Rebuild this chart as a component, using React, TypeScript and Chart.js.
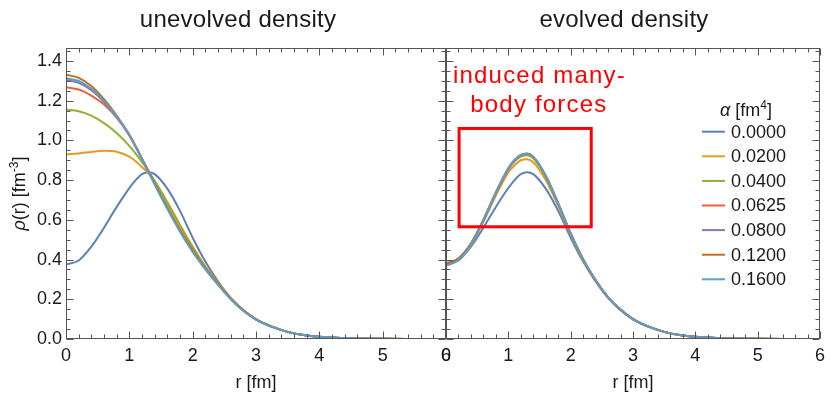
import React, { useEffect, useRef } from "react";
import { Chart, registerables } from "chart.js";

Chart.register(...registerables);

const FONT = '"Liberation Sans", Arial, Helvetica, sans-serif';
const TEXT_COLOR = "#1a1a1a";
const FRAME_COLOR = "#555555";

const panelTitles = ["unevolved density", "evolved density"];
const xTitle = "r [fm]";
const alphaLabels = ["0.0000", "0.0200", "0.0400", "0.0625", "0.0800", "0.1200", "0.1600"];
const seriesColors = ["#5E81B5", "#E19C24", "#8FB032", "#EB6235", "#8778B3", "#C56E1A", "#5D9EC7"];

// radial grid (fm)
const rGrid = [0, 0.2, 0.4, 0.6, 0.8, 1.0, 1.1, 1.2, 1.3, 1.4, 1.6, 1.8, 2.0, 2.2, 2.4, 2.6, 2.8, 3.0, 3.25, 3.5, 3.75, 4.0, 4.5, 5.0, 5.5, 6.0];

// unevolved density rho(r) [fm^-3]
const unevolvedA0000 = [0.375, 0.395, 0.465, 0.56, 0.665, 0.76, 0.8, 0.83, 0.84, 0.83, 0.757, 0.645, 0.51, 0.39, 0.29, 0.207, 0.145, 0.099, 0.062, 0.036, 0.02, 0.011, 0.0035, 0.001, 0.0003, 0.0001];
const unevolvedA0200 = [0.93, 0.934, 0.942, 0.948, 0.943, 0.918, 0.895, 0.865, 0.835, 0.795, 0.69, 0.575, 0.465, 0.366, 0.282, 0.207, 0.146, 0.1, 0.062, 0.036, 0.02, 0.011, 0.0035, 0.001, 0.0003, 0.0001];
const unevolvedA0400 = [1.155, 1.147, 1.125, 1.087, 1.037, 0.972, 0.933, 0.89, 0.845, 0.795, 0.685, 0.57, 0.46, 0.362, 0.279, 0.205, 0.145, 0.099, 0.062, 0.036, 0.02, 0.011, 0.0035, 0.001, 0.0003, 0.0001];
const unevolvedA0625 = [1.267, 1.256, 1.225, 1.18, 1.115, 1.025, 0.968, 0.907, 0.846, 0.783, 0.662, 0.548, 0.445, 0.356, 0.277, 0.204, 0.144, 0.099, 0.062, 0.036, 0.02, 0.011, 0.0035, 0.001, 0.0003, 0.0001];
const unevolvedA0800 = [1.304, 1.29, 1.252, 1.193, 1.118, 1.027, 0.969, 0.907, 0.845, 0.782, 0.66, 0.546, 0.444, 0.354, 0.275, 0.202, 0.143, 0.098, 0.062, 0.036, 0.02, 0.011, 0.0035, 0.001, 0.0003, 0.0001];
const unevolvedA1200 = [1.33, 1.315, 1.274, 1.207, 1.125, 1.028, 0.97, 0.908, 0.846, 0.782, 0.662, 0.548, 0.445, 0.355, 0.276, 0.203, 0.144, 0.099, 0.062, 0.036, 0.02, 0.011, 0.0035, 0.001, 0.0003, 0.0001];
const unevolvedA1600 = [1.313, 1.299, 1.26, 1.199, 1.121, 1.027, 0.968, 0.905, 0.842, 0.778, 0.655, 0.54, 0.438, 0.35, 0.272, 0.2, 0.142, 0.098, 0.061, 0.036, 0.02, 0.011, 0.0035, 0.001, 0.0003, 0.0001];

// evolved density rho(r) [fm^-3]
const evolvedA0000 = [0.375, 0.395, 0.465, 0.56, 0.665, 0.76, 0.8, 0.83, 0.84, 0.83, 0.757, 0.645, 0.51, 0.39, 0.29, 0.207, 0.145, 0.099, 0.062, 0.036, 0.02, 0.011, 0.0035, 0.001, 0.0003, 0.0001];
const evolvedA0200 = [0.375, 0.402, 0.475, 0.59, 0.722, 0.838, 0.875, 0.9, 0.905, 0.89, 0.8, 0.67, 0.525, 0.397, 0.293, 0.209, 0.147, 0.1, 0.062, 0.036, 0.02, 0.011, 0.0035, 0.001, 0.0003, 0.0001];
const evolvedA0400 = [0.375, 0.403, 0.478, 0.596, 0.732, 0.852, 0.894, 0.918, 0.925, 0.91, 0.816, 0.68, 0.53, 0.4, 0.295, 0.21, 0.148, 0.1, 0.062, 0.036, 0.02, 0.011, 0.0035, 0.001, 0.0003, 0.0001];
const evolvedA0625 = [0.376, 0.404, 0.479, 0.598, 0.735, 0.856, 0.898, 0.923, 0.93, 0.915, 0.82, 0.682, 0.531, 0.4, 0.295, 0.21, 0.148, 0.1, 0.062, 0.036, 0.02, 0.011, 0.0035, 0.001, 0.0003, 0.0001];
const evolvedA0800 = [0.376, 0.404, 0.479, 0.599, 0.737, 0.858, 0.9, 0.925, 0.932, 0.917, 0.821, 0.682, 0.531, 0.4, 0.295, 0.21, 0.148, 0.1, 0.062, 0.036, 0.02, 0.011, 0.0035, 0.001, 0.0003, 0.0001];
const evolvedA1200 = [0.38, 0.407, 0.481, 0.6, 0.738, 0.86, 0.902, 0.927, 0.934, 0.918, 0.822, 0.683, 0.531, 0.4, 0.295, 0.21, 0.148, 0.1, 0.062, 0.036, 0.02, 0.011, 0.0035, 0.001, 0.0003, 0.0001];
const evolvedA1600 = [0.368, 0.398, 0.476, 0.598, 0.737, 0.859, 0.901, 0.926, 0.933, 0.917, 0.822, 0.683, 0.532, 0.401, 0.296, 0.211, 0.148, 0.1, 0.062, 0.036, 0.02, 0.011, 0.0035, 0.001, 0.0003, 0.0001];

const unevolvedSeries = [unevolvedA0000, unevolvedA0200, unevolvedA0400, unevolvedA0625, unevolvedA0800, unevolvedA1200, unevolvedA1600];
const evolvedSeries = [evolvedA0000, evolvedA0200, evolvedA0400, evolvedA0625, evolvedA0800, evolvedA1200, evolvedA1600];

// axes
const xMin = 0;
const xMax = 6;
const yMin = 0;
const yMax = 1.465;
const xMajorStep = 1;
const xMinorStep = 0.2;
const yMajorStep = 0.2;
const yMinorStep = 0.05;

// annotation (data coordinates of the evolved panel)
const boxR = [0.21, 2.33];
const boxRho = [0.565, 1.06];
const noteLines = ["induced many-", "body forces"];
const noteR = [1.5, 1.49];
const noteRho = [1.32, 1.175];

const isMultiple = (v: number, step: number) => Math.abs(v / step - Math.round(v / step)) < 1e-6;

const frameTicksPlugin = {
  id: "frameTicks",
  afterDatasetsDraw(chart: any) {
    const { ctx, chartArea: a, scales } = chart;
    const x = scales.x;
    const y = scales.y;
    const L = Math.round(a.left) + 0.5;
    const R = Math.round(a.right) - 0.5;
    const T = Math.round(a.top) + 0.5;
    const B = Math.round(a.bottom) - 0.5;
    ctx.save();
    ctx.strokeStyle = FRAME_COLOR;
    ctx.lineWidth = 1;
    ctx.beginPath();
    const nx = Math.round((xMax - xMin) / xMinorStep);
    for (let k = 0; k <= nx; k++) {
      const v = xMin + k * xMinorStep;
      const len = isMultiple(v, xMajorStep) ? 7 : 4;
      const px = Math.round(x.getPixelForValue(v)) + 0.5;
      ctx.moveTo(px, B);
      ctx.lineTo(px, B - len);
      ctx.moveTo(px, T);
      ctx.lineTo(px, T + len);
    }
    const ny = Math.floor((yMax - yMin) / yMinorStep + 1e-6);
    for (let k = 0; k <= ny; k++) {
      const v = yMin + k * yMinorStep;
      const len = isMultiple(v, yMajorStep) ? 7 : 4;
      const py = Math.round(y.getPixelForValue(v)) + 0.5;
      ctx.moveTo(L, py);
      ctx.lineTo(L + len, py);
      ctx.moveTo(R, py);
      ctx.lineTo(R - len, py);
    }
    ctx.stroke();
    ctx.strokeRect(L, T, R - L, B - T);
    ctx.restore();
  },
};

const drawRuns = (ctx: any, runs: any[], startX: number, baseY: number) => {
  let cx = startX;
  for (const run of runs) {
    ctx.font = run.font;
    ctx.fillText(run.text, cx, baseY + (run.dy || 0));
    cx += ctx.measureText(run.text).width;
  }
};
const runsWidth = (ctx: any, runs: any[]) => {
  let w = 0;
  for (const run of runs) {
    ctx.font = run.font;
    w += ctx.measureText(run.text).width;
  }
  return w;
};

const decorPlugin = {
  id: "panelDecor",
  afterDraw(chart: any, _args: any, opts: any) {
    const { ctx, chartArea: a, scales } = chart;
    ctx.save();
    // panel title
    ctx.fillStyle = TEXT_COLOR;
    ctx.font = `24px ${FONT}`;
    (ctx as any).letterSpacing = "0.25px";
    ctx.textAlign = "center";
    ctx.textBaseline = "alphabetic";
    ctx.fillText(opts.title, chart.width / 2, 27);
    (ctx as any).letterSpacing = "0px";
    ctx.textAlign = "left";

    if (opts.yTitle) {
      const runs = [
        { text: "\u03C1", font: `italic 18px ${FONT}` },
        { text: "(r) [fm", font: `18px ${FONT}` },
        { text: "-3", font: `12px ${FONT}`, dy: -7 },
        { text: "]", font: `18px ${FONT}` },
      ];
      ctx.translate(25, (a.top + a.bottom) / 2);
      ctx.rotate(-Math.PI / 2);
      const w = runsWidth(ctx, runs);
      drawRuns(ctx, runs, -w / 2, 0);
      ctx.setTransform(1, 0, 0, 1, 0, 0);
    }

    if (opts.legend) {
      const titleRuns = [
        { text: "\u03B1", font: `italic 18px ${FONT}` },
        { text: " [fm", font: `18px ${FONT}` },
        { text: "4", font: `12px ${FONT}`, dy: -7 },
        { text: "]", font: `18px ${FONT}` },
      ];
      const tw = runsWidth(ctx, titleRuns);
      drawRuns(ctx, titleRuns, a.right - 74 - tw / 2, a.top + 68);
      ctx.font = `18px ${FONT}`;
      ctx.textBaseline = "middle";
      chart.data.datasets.forEach((ds: any, i: number) => {
        const yy = a.top + 83.7 + i * 24.6;
        ctx.strokeStyle = ds.borderColor;
        ctx.lineWidth = 2;
        ctx.beginPath();
        ctx.moveTo(a.right - 118, yy);
        ctx.lineTo(a.right - 95, yy);
        ctx.stroke();
        ctx.fillStyle = TEXT_COLOR;
        ctx.fillText(ds.label, a.right - 89, yy + 1);
      });
    }

    if (opts.note) {
      const x = scales.x;
      const y = scales.y;
      ctx.strokeStyle = "#FF0000";
      ctx.lineWidth = 3;
      const x0 = x.getPixelForValue(boxR[0]);
      const x1 = x.getPixelForValue(boxR[1]);
      const y0 = y.getPixelForValue(boxRho[1]);
      const y1 = y.getPixelForValue(boxRho[0]);
      ctx.strokeRect(x0, y0, x1 - x0, y1 - y0);
      ctx.fillStyle = "#FF0000";
      ctx.font = `24px ${FONT}`;
      (ctx as any).letterSpacing = "1.2px";
      ctx.textAlign = "center";
      ctx.textBaseline = "middle";
      noteLines.forEach((line, i) => {
        ctx.fillText(line, x.getPixelForValue(noteR[i]), y.getPixelForValue(noteRho[i]));
      });
      (ctx as any).letterSpacing = "0px";
    }
    ctx.restore();
  },
};

const makeDatasets = (series: number[][]) =>
  series.map((vals, i) => ({
    label: alphaLabels[i],
    data: rGrid.map((r, j) => ({ x: r, y: vals[j] })),
    borderColor: seriesColors[i],
    backgroundColor: seriesColors[i],
    borderWidth: 2,
    pointRadius: 0,
    fill: false,
    cubicInterpolationMode: "monotone",
    order: -i,
  }));

const makeConfig = (series: number[][], panel: any) => ({
  type: "line",
  data: { datasets: makeDatasets(series) },
  options: {
    animation: false,
    responsive: false,
    events: [],
    layout: { padding: { top: 48, right: panel.padRight, left: 0, bottom: 0 } },
    plugins: {
      legend: { display: false },
      tooltip: { enabled: false },
      title: { display: false },
      panelDecor: { title: panel.title, yTitle: panel.yTitle, legend: panel.legend, note: panel.note },
    },
    scales: {
      x: {
        type: "linear",
        min: xMin,
        max: xMax,
        grid: { display: false, drawTicks: false },
        border: { display: false },
        ticks: {
          stepSize: xMajorStep,
          includeBounds: false,
          padding: 6,
          maxRotation: 0,
          autoSkip: false,
          color: TEXT_COLOR,
          font: { family: FONT, size: 18 },
          callback: (v: any) => String(v),
        },
        title: {
          display: true,
          text: xTitle,
          color: TEXT_COLOR,
          font: { family: FONT, size: 18 },
          padding: { top: 0, bottom: 0 },
        },
        afterFit: (s: any) => {
          s.height = 55;
        },
      },
      y: {
        type: "linear",
        min: yMin,
        max: yMax,
        grid: { display: false, drawTicks: false },
        border: { display: false },
        ticks: {
          display: panel.yTicks,
          stepSize: yMajorStep,
          includeBounds: false,
          padding: 4,
          color: TEXT_COLOR,
          font: { family: FONT, size: 18 },
          callback: (v: any) => Number(v).toFixed(1),
        },
        afterFit: (s: any) => {
          s.width = panel.yWidth;
        },
      },
    },
  },
  plugins: [frameTicksPlugin, decorPlugin],
});

export default function App() {
  const leftRef = useRef<HTMLCanvasElement>(null);
  const rightRef = useRef<HTMLCanvasElement>(null);

  useEffect(() => {
    const left = new Chart(
      leftRef.current as any,
      makeConfig(unevolvedSeries, { title: panelTitles[0], yTitle: true, legend: false, note: false, yTicks: true, yWidth: 66, padRight: 30 }) as any
    );
    const right = new Chart(
      rightRef.current as any,
      makeConfig(evolvedSeries, { title: panelTitles[1], yTitle: false, legend: true, note: true, yTicks: false, yWidth: 29, padRight: 7 }) as any
    );
    return () => {
      left.destroy();
      right.destroy();
    };
  }, []);

  return (
    <div style={{ position: "absolute", left: 0, top: 0, width: 831, height: 394, background: "#ffffff" }}>
      <canvas ref={leftRef} width={476} height={394} style={{ position: "absolute", left: 0, top: 0, width: 476, height: 394 }} />
      <canvas ref={rightRef} width={414} height={394} style={{ position: "absolute", left: 417, top: 0, width: 414, height: 394 }} />
    </div>
  );
}
